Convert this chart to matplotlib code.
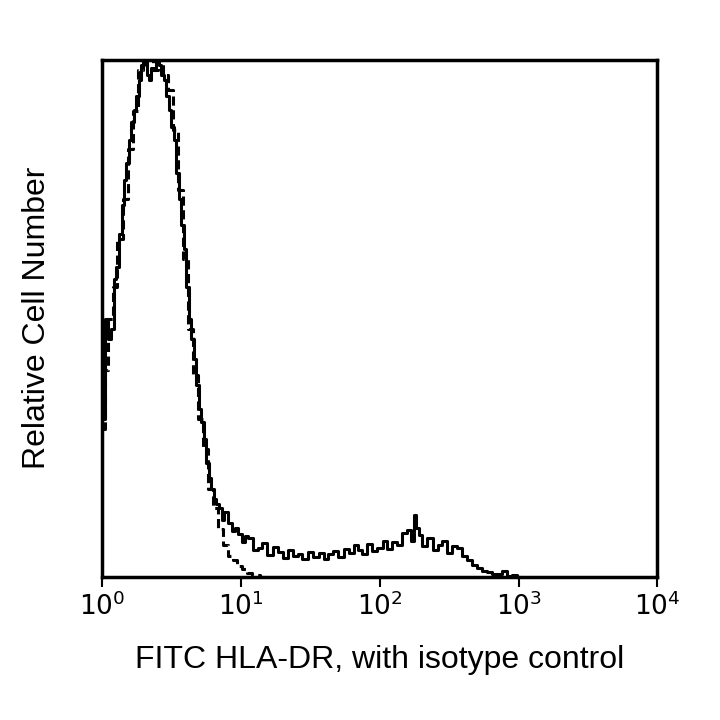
import matplotlib
matplotlib.use("Agg")
import matplotlib.pyplot as plt
from matplotlib.ticker import FixedLocator, NullLocator

plt.rcParams['font.family'] = ['Liberation Sans', 'DejaVu Sans']

# sample (HLA-DR) histogram: log10 intensity, relative count
sample_log = [0.007,0.029,0.05,0.072,0.094,0.11,0.129,0.15,0.165,0.18,0.201,0.22,0.237,0.255,0.273,0.29,0.309,0.33,0.345,0.36,0.381,0.40,0.417,0.435,0.453,0.47,0.489,0.505,0.525,0.54,0.561,0.58,0.597,0.615,0.633,0.65,0.669,0.685,0.705,0.72,0.741,0.76,0.777,0.795,0.813,0.83,0.849,0.87,0.89,0.921,0.95,0.97,0.993,1.02,1.04,1.065,1.10,1.137,1.17,1.21,1.25,1.281,1.32,1.36,1.39,1.424,1.46,1.50,1.54,1.58,1.61,1.640,1.68,1.72,1.76,1.80,1.83,1.856,1.89,1.93,1.96,2.000,2.04,2.07,2.10,2.144,2.18,2.216,2.234,2.252,2.27,2.288,2.32,2.36,2.40,2.432,2.47,2.50,2.54,2.576,2.61,2.647,2.68,2.719,2.75,2.791,2.83,2.863,2.90,2.935,2.97,3.007]
sample_cnt = [30.6,49.9,46.0,48.0,57.6,60.0,66.3,72.0,76.8,80.0,84.5,88.0,90.3,93.0,96.1,99.0,99.6,97.0,96.1,98.5,98.1,100.0,99.0,97.0,96.1,93.0,90.3,87.0,84.5,78.0,73.0,68.0,63.3,56.0,49.9,46.0,42.2,37.0,32.5,30.0,26.7,22.0,19.0,17.0,15.1,14.0,13.2,11.0,12.5,10.3,8.8,9.5,8.3,6.8,7.9,7.4,5.1,5.6,6.6,4.2,5.8,4.8,3.6,5.2,4.1,4.3,3.5,4.7,3.9,4.5,3.4,4.3,5.0,3.8,5.4,4.6,6.1,5.2,4.4,6.4,5.0,5.6,7.0,5.4,6.8,6.2,8.5,9.1,7.0,12.0,9.5,8.1,6.0,7.5,5.2,6.2,7.0,4.6,5.9,5.6,4.0,3.3,2.2,1.7,1.2,1.0,0.5,0.6,1.2,0.2,0.4,0.0]

# isotype control histogram
iso_log = [0.007,0.03,0.058,0.09,0.129,0.165,0.201,0.237,0.273,0.31,0.345,0.38,0.417,0.453,0.489,0.525,0.561,0.597,0.633,0.67,0.705,0.741,0.777,0.813,0.849,0.885,0.92,0.957,0.99,1.029,1.06,1.101,1.173]
iso_cnt = [28.6,40.0,49.9,56.0,65.4,73.0,82.8,90.0,98.1,100.0,100.0,98.0,100.0,97.0,94.2,86.5,74.9,61.5,47.9,39.0,30.6,24.8,17.0,13.2,9.3,6.2,4.0,3.3,2.0,1.4,0.8,0.4,0.0]

xticks = [1, 10, 100, 1000, 10000]
xticklabels = [r'$10^{0}$', r'$10^{1}$', r'$10^{2}$', r'$10^{3}$', r'$10^{4}$']

fig = plt.figure(figsize=(7.2, 7.2), dpi=100)
ax = fig.add_axes([0.142, 0.199, 0.771, 0.718])

ax.step([10**v for v in sample_log], sample_cnt, where='mid', color='black', lw=2.2)
ax.step([10**v for v in iso_log], iso_cnt, where='mid', color='black', lw=2.2, linestyle=(0, (3, 1.5)))

ax.set_xscale('log')
ax.set_xlim(1, 10000)
ax.set_ylim(0, 100)
ax.xaxis.set_major_locator(FixedLocator(xticks))
ax.xaxis.set_minor_locator(NullLocator())
ax.set_xticklabels(xticklabels, fontsize=19)
ax.set_yticks([])
ax.tick_params(axis='x', direction='out', length=7, width=1.5)
for s in ax.spines.values():
    s.set_linewidth(2.5)

ax.set_xlabel('FITC HLA-DR, with isotype control', fontsize=23, labelpad=18)
ax.set_ylabel('Relative Cell Number', fontsize=23, labelpad=36)

fig.savefig('out.png', dpi=100)
